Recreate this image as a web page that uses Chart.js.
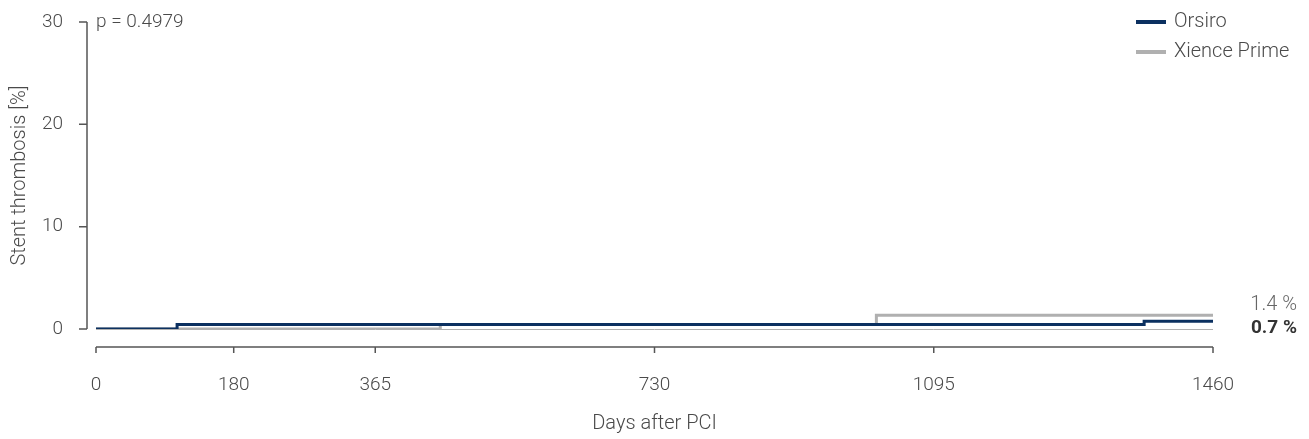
<!DOCTYPE html>
<html lang="en">
<head>
    <meta charset="UTF-8">
    <title>Stent thrombosis</title>
    <script src="https://cdn.jsdelivr.net/npm/chart.js"></script>
    <style>
        html, body { margin: 0; padding: 0; background: #fff; }
        #wrap { width: 1309px; height: 439px; }
    </style>
</head>
<body>
    <div id="wrap"><canvas id="stChart"></canvas></div>

    <script>
        // values
        const xTicks = [0, 180, 365, 730, 1095, 1460];
        const yTicks = [0, 10, 20, 30];
        const orsiroDays = [0, 106, 1370, 1460];
        const orsiroRate = [0, 0.45, 0.75, 0.75];
        const xienceDays = [0, 450, 1020, 1460];
        const xienceRate = [0, 0.45, 1.35, 1.35];
        const seriesNames = ['Orsiro', 'Xience Prime'];
        const endLabels = ['0.7 %', '1.4 %'];
        const pValue = 'p = 0.4979';

        const navy = '#0b3060';
        const grey = '#b0b0b0';
        const axisCol = '#555';
        const textCol = '#4a4a4a';
        const fontFamily = 'Roboto, "Noto Sans", sans-serif';
        const numFont = { family: fontFamily, size: 19, weight: '300' };
        const wordFont = { family: fontFamily, size: 20, weight: '300' };

        const toPoints = (xs, ys) => xs.map((x, i) => ({ x: x, y: ys[i] }));

        // axis lines sit a bit away from the plot, so draw them ourselves
        const extras = {
            id: 'extras',
            afterDraw(chart) {
                const ctx = chart.ctx;
                const xs = chart.scales.x, ys = chart.scales.y;
                const area = chart.chartArea;
                ctx.save();
                ctx.strokeStyle = axisCol;
                ctx.lineWidth = 1.5;

                // y axis
                const ax = area.left - 9;
                ctx.beginPath();
                ctx.moveTo(ax, ys.getPixelForValue(30));
                ctx.lineTo(ax, ys.getPixelForValue(0));
                yTicks.forEach(v => {
                    const py = ys.getPixelForValue(v);
                    ctx.moveTo(ax - 8, py);
                    ctx.lineTo(ax, py);
                });
                ctx.stroke();

                // x axis
                const ay = area.bottom + 18;
                ctx.beginPath();
                ctx.moveTo(xs.getPixelForValue(0), ay);
                ctx.lineTo(xs.getPixelForValue(1460), ay);
                xTicks.forEach(v => {
                    const px = xs.getPixelForValue(v);
                    ctx.moveTo(px, ay);
                    ctx.lineTo(px, ay + 6);
                });
                ctx.stroke();

                // p value
                ctx.fillStyle = textCol;
                ctx.font = '300 19px ' + fontFamily;
                ctx.textBaseline = 'middle';
                ctx.textAlign = 'left';
                ctx.fillText(pValue, area.left, ys.getPixelForValue(30));

                // legend
                ctx.font = '300 20px ' + fontFamily;
                const cols = [navy, grey];
                seriesNames.forEach((name, i) => {
                    const y = 22 + i * 30;
                    ctx.fillStyle = cols[i];
                    ctx.fillRect(1136, y - 2, 30, 4);
                    ctx.fillStyle = textCol;
                    ctx.fillText(name, 1174, y);
                });

                // end values
                ctx.textAlign = 'right';
                ctx.fillStyle = '#666';
                ctx.fillText(endLabels[1], 1297, 305);
                ctx.fillStyle = '#333';
                ctx.font = '700 19px ' + fontFamily;
                ctx.fillText(endLabels[0], 1297, 328);
                ctx.restore();
            }
        };

        const ctx = document.getElementById('stChart').getContext('2d');
        new Chart(ctx, {
            type: 'line',
            data: {
                datasets: [{
                    label: seriesNames[0],
                    data: toPoints(orsiroDays, orsiroRate),
                    borderColor: navy,
                    borderWidth: 3,
                    stepped: 'before',
                    pointRadius: 0,
                    fill: false
                }, {
                    label: seriesNames[1],
                    data: toPoints(xienceDays, xienceRate),
                    borderColor: grey,
                    borderWidth: 3,
                    stepped: 'before',
                    pointRadius: 0,
                    fill: false
                }]
            },
            options: {
                responsive: true,
                maintainAspectRatio: false,
                animation: false,
                layout: { padding: { left: 0, top: 22, right: 96, bottom: 0 } },
                plugins: {
                    legend: { display: false },
                    tooltip: { enabled: false }
                },
                scales: {
                    x: {
                        type: 'linear',
                        min: 0,
                        max: 1460,
                        afterBuildTicks: s => { s.ticks = xTicks.map(v => ({ value: v })); },
                        afterFit: s => { s.height = 110; },
                        border: { display: false },
                        grid: { display: false, drawTicks: false },
                        ticks: {
                            padding: 45,
                            color: textCol,
                            font: numFont,
                            maxRotation: 0,
                            callback: v => String(v)
                        },
                        title: {
                            display: true,
                            text: 'Days after PCI',
                            color: textCol,
                            padding: { top: 4, bottom: 3 },
                            font: wordFont
                        }
                    },
                    y: {
                        min: 0,
                        max: 30,
                        afterBuildTicks: s => { s.ticks = yTicks.map(v => ({ value: v })); },
                        afterFit: s => {
                            s.width = 96;
                            // big tick padding would otherwise push the plot down
                            s.paddingTop = 0;
                            s.paddingBottom = 0;
                        },
                        border: { display: false },
                        grid: {
                            drawTicks: false,
                            lineWidth: 1,
                            color: c => (c.tick && c.tick.value === 0) ? grey : 'transparent'
                        },
                        ticks: {
                            padding: 33,
                            color: textCol,
                            font: numFont,
                            callback: v => String(v)
                        },
                        title: {
                            display: true,
                            text: 'Stent thrombosis [%]',
                            color: textCol,
                            padding: { top: 8, bottom: 4 },
                            font: wordFont
                        }
                    }
                }
            },
            plugins: [extras]
        });
    </script>
</body>
</html>
